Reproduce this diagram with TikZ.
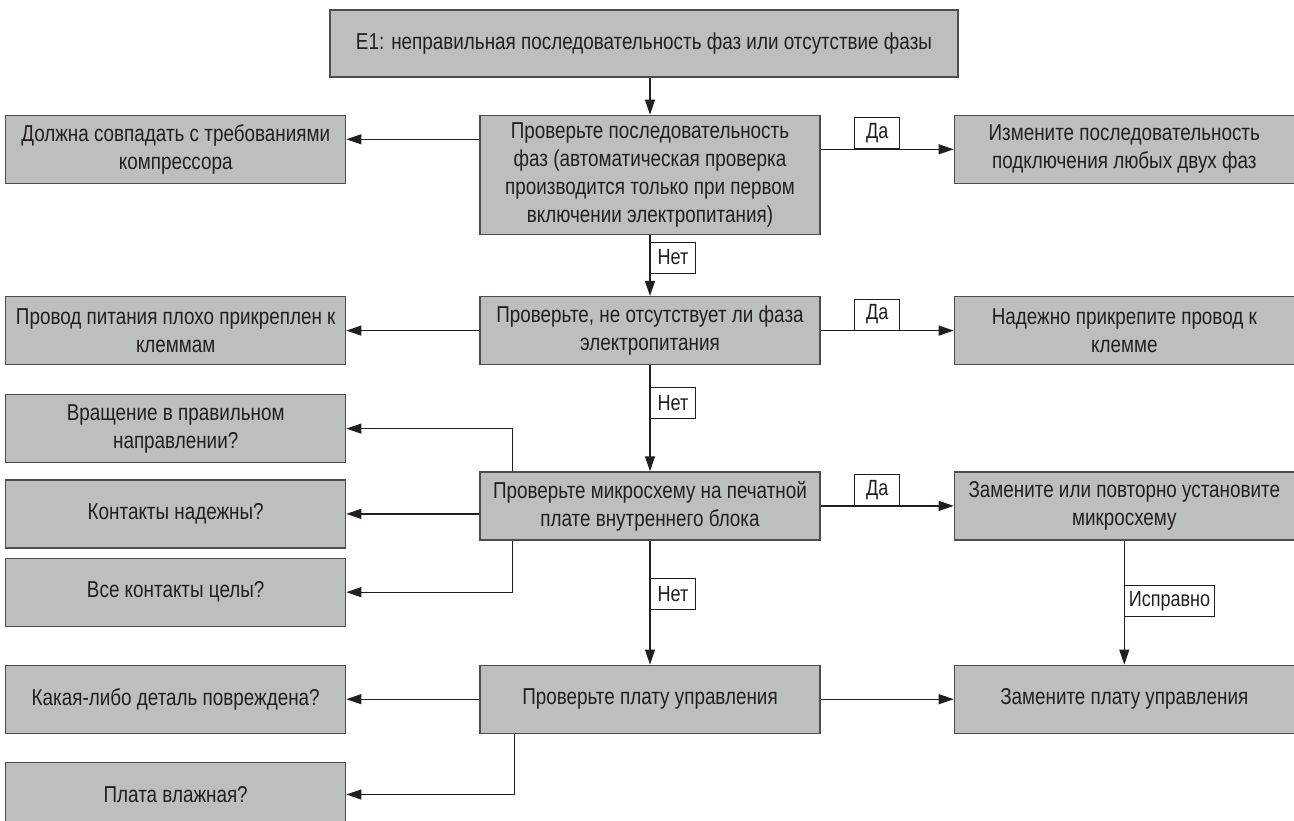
\documentclass[tikz,border=0pt]{standalone}
\usepackage{fontspec}
\setmainfont{Liberation Sans}[FakeStretch=0.82]
\usepackage{xcolor}
\usetikzlibrary{arrows.meta,positioning}
\definecolor{BoxGray}{HTML}{BCBEC0}
\definecolor{EdgeGray}{HTML}{4D4D4F}
\definecolor{InkBlack}{HTML}{231F20}
\tikzset{
    % Grey step boxes
    process/.style={
        rectangle,
        draw=EdgeGray,
        line width=1.3pt,
        fill=BoxGray,
        text=InkBlack,
        minimum width=340pt,
        minimum height=68pt,
        inner sep=2pt,
        align=center,
        font=\fontsize{23}{28}\selectfont
    },
    process wide/.style={
        process,
        minimum width=628pt,
        minimum height=67pt
    },
    process tall/.style={
        process,
        minimum height=119pt
    },
    arrow/.style={
        -{Triangle[length=15pt,width=10pt]},
        line width=1.2pt,
        color=InkBlack
    },
    % White answer tags on the lines
    answer/.style={
        rectangle,
        draw=InkBlack,
        line width=1pt,
        fill=white,
        text=InkBlack,
        inner xsep=4pt,
        inner ysep=0pt,
        minimum width=45pt,
        minimum height=31pt,
        font=\fontsize{22}{26}\selectfont
    }
}

\begin{document}
\begin{tikzpicture}[x=1pt, y=-1pt]
        \useasboundingbox (0,0) rectangle (1294,821);

        % Main column
        \node[process wide] (e1) at (644,43.5) {E1: неправильная последовательность фаз или отсутствие фазы};
        \node[process tall, below=37pt of e1, xshift=6pt] (chk1) {Проверьте последовательность\\фаз (автоматическая проверка\\производится только при первом\\включении электропитания)};
        \node[process, below=61pt of chk1] (chk2) {Проверьте, не отсутствует ли фаза\\электропитания};
        \node[process, below=106pt of chk2] (chk3) {Проверьте микросхему на печатной\\плате внутреннего блока};
        \node[process, below=124pt of chk3] (chk4) {Проверьте плату управления};

        % Left column
        \node[process, left=133pt of chk1.north west, anchor=north east] (cause1) {Должна совпадать с требованиями\\компрессора};
        \node[process, left=133pt of chk2] (cause2) {Провод питания плохо прикреплен к\\клеммам};
        \node[process, left=133pt of chk3, yshift=-8pt] (cause3b) {Контакты надежны?};
        \node[process, above=16pt of cause3b] (cause3a) {Вращение в правильном\\направлении?};
        \node[process, below=9pt of cause3b] (cause3c) {Все контакты целы?};
        \node[process, left=133pt of chk4] (cause4a) {Какая-либо деталь повреждена?};
        \node[process, below=28pt of cause4a, minimum height=64pt] (cause4b) {Плата влажная?};

        % Right column
        \node[process, right=133pt of chk1.north east, anchor=north west] (fix1) {Измените последовательность\\подключения любых двух фаз};
        \node[process, right=133pt of chk2] (fix2) {Надежно прикрепите провод к\\клемме};
        \node[process, right=133pt of chk3] (fix3) {Замените или повторно установите\\микросхему};
        \node[process, right=133pt of chk4] (fix4) {Замените плату управления};

        % Arrows down the middle
        \draw[arrow] (e1.south -| chk1) -- (chk1);
        \draw[arrow] (chk1) -- node[answer, right, pos=0.37] {Нет} (chk2);
        \draw[arrow] (chk2) -- node[answer, right, pos=0.36] {Нет} (chk3);
        \draw[arrow] (chk3) -- node[answer, right, pos=0.43] {Нет} (chk4);
        \draw[arrow] (fix3) -- node[answer, right, pos=0.49] {Исправно} (fix4);

        % Arrows to the left
        \coordinate (in1) at ([yshift=10pt]cause1.east);
        \draw[arrow] (chk1.west |- in1) -- (in1);
        \draw[arrow] (chk2) -- (cause2);
        \draw[arrow] ([xshift=33pt]chk3.north west) |- (cause3a);
        \draw[arrow] (chk3.west |- cause3b) -- (cause3b);
        \draw[arrow] ([xshift=33pt]chk3.south west) |- (cause3c);
        \draw[arrow] (chk4) -- (cause4a);
        \draw[arrow] ([xshift=35pt]chk4.south west) |- (cause4b);

        % Arrows to the right
        \draw[arrow] (chk1.east |- fix1) -- node[answer, above, pos=0.425] {Да} (fix1);
        \draw[arrow] (chk2) -- node[answer, above, pos=0.425] {Да} (fix2);
        \draw[arrow] (chk3) -- node[answer, above, pos=0.425] {Да} (fix3);
        \draw[arrow] (chk4) -- (fix4);
    \end{tikzpicture}
\end{document}
